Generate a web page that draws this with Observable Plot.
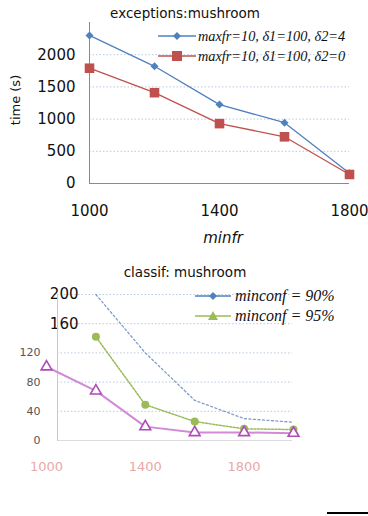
<!DOCTYPE html>
<html>
<head>
<meta charset="utf-8">
<script src="https://cdn.jsdelivr.net/npm/d3@7"></script>
<script src="https://cdn.jsdelivr.net/npm/@observablehq/plot@0.6"></script>
<style>
  html, body { margin: 0; padding: 0; background: #fff; }
  #wrap { position: relative; width: 368px; height: 516px; overflow: hidden; }
  .abs { position: absolute; white-space: nowrap; }
  .title { font-family: "DejaVu Sans", sans-serif; font-size: 13.5px; line-height: 16px; color: #111; text-align: center; }
  .leg { display: flex; align-items: center; height: 18px; }
  .leg span { font-family: "Liberation Serif", serif; font-style: italic; color: #111; }
</style>
</head>
<body>
<div id="wrap">
  <div id="top" class="abs" style="left:0;top:0"></div>
  <div id="bot" class="abs" style="left:0;top:250px"></div>
</div>
<script>
// ---------- data: top chart ----------
const minfr = [1000, 1200, 1400, 1600, 1800];
const timeD4 = [2300, 1820, 1225, 945, 160];
const timeD0 = [1790, 1410, 930, 725, 140];
const topYTicks = [0, 500, 1000, 1500, 2000];
const topXTicks = [1000, 1400, 1800];
const topSeries = ["maxfr=10, δ1=100, δ2=4", "maxfr=10, δ1=100, δ2=0"];

// ---------- data: bottom chart ----------
const botX = [1000, 1200, 1400, 1600, 1800, 2000];
const conf90 = [null, 200, 120, 55, 30, 25];
const conf95 = [null, 142, 49, 26, 16, 15];
const confOther = [101, 68, 19, 11, 11, 10];
const botYTicksHigh = [160, 200];
const botYTicksLow = [0, 40, 80, 120];
const botXTicks = [1000, 1400, 1800];
const botSeries = ["minconf = 90%", "minconf = 95%"];

const BLUE = "#4F81BD", RED = "#C0504D", GREEN = "#9BBB59", PINK = "#D08AD6", PINKD = "#B04AB8";
const GRID = "#b9c9de";

const fmt = d => String(d);
const topD4 = minfr.map((x, i) => ({x, y: timeD4[i]}));
const topD0 = minfr.map((x, i) => ({x, y: timeD0[i]}));

const topPlot = Plot.plot({
  width: 368, height: 250,
  marginLeft: 89, marginRight: 19, marginTop: 22, marginBottom: 67,
  x: {domain: [1000, 1800]},
  y: {domain: [0, 2500]},
  style: {fontFamily: "DejaVu Sans, sans-serif", fontSize: "15px", color: "#111", background: "transparent"},
  marks: [
    Plot.gridY(topYTicks.filter(d => d > 0), {stroke: GRID, strokeOpacity: 1, strokeDasharray: "1.5,2"}),
    Plot.axisY({ticks: topYTicks, tickSize: 0, tickPadding: 14, label: null, tickFormat: fmt, fontSize: 15}),
    Plot.axisX({ticks: topXTicks, tickSize: 0, tickPadding: 22, label: null, tickFormat: fmt, fontSize: 15}),
    Plot.ruleX([1000], {stroke: "#8a8a8a"}),
    Plot.ruleY([0], {stroke: "#8a8a8a"}),
    Plot.line(topD4, {x: "x", y: "y", stroke: BLUE, strokeWidth: 1.3}),
    Plot.line(topD0, {x: "x", y: "y", stroke: RED, strokeWidth: 1.3}),
    Plot.dot(topD4, {x: "x", y: "y", symbol: "diamond2", r: 3.6, fill: BLUE}),
    Plot.dot(topD0, {x: "x", y: "y", symbol: "square", r: 5.4, fill: RED})
  ]
});
document.getElementById("top").appendChild(topPlot);

const b90 = botX.map((x, i) => ({x, y: conf90[i]})).filter(d => d.y != null);
const b95 = botX.map((x, i) => ({x, y: conf95[i]})).filter(d => d.y != null);
const bOt = botX.map((x, i) => ({x, y: confOther[i]}));

const botPlot = Plot.plot({
  width: 368, height: 266,
  marginLeft: 57, marginRight: 76, marginTop: 44, marginBottom: 76,
  x: {domain: [1000, 2000], range: [46, 293]},
  y: {domain: [0, 200]},
  style: {fontFamily: "DejaVu Sans, sans-serif", fontSize: "15px", color: "#111", background: "transparent", overflow: "visible"},
  marks: [
    Plot.gridY([40, 80, 120, 160, 200], {stroke: GRID, strokeOpacity: 1, strokeDasharray: "1.5,2"}),
    Plot.axisY({ticks: botYTicksHigh, tickSize: 0, tickPadding: -21, label: null, tickFormat: fmt, fontSize: 15}),
    Plot.axisY({ticks: botYTicksLow, tickSize: 0, tickPadding: 17, label: null, tickFormat: fmt, fontSize: 11, fill: "#555"}),
    Plot.axisX({ticks: botXTicks, tickSize: 0, tickPadding: 21, label: null, tickFormat: fmt, fontSize: 13, fill: "#e7a9a9"}),
    Plot.ruleY([0], {stroke: "#dcdcdc"}),
    Plot.frame({anchor: "left", stroke: "#c9c9c9"}),
    Plot.line(b90, {x: "x", y: "y", stroke: "#7f9cc8", strokeWidth: 1.3, strokeDasharray: "2,2.5"}),
    Plot.line(b95, {x: "x", y: "y", stroke: GREEN, strokeWidth: 1.5, strokeDasharray: "2,1.5"}),
    Plot.line(bOt, {x: "x", y: "y", stroke: PINK, strokeWidth: 2}),
    Plot.dot(b95, {x: "x", y: "y", symbol: "circle", r: 4, fill: GREEN}),
    Plot.dot(bOt, {x: "x", y: "y", symbol: "triangle", r: 4, fill: "#fff", stroke: PINKD, strokeWidth: 1.6})
  ]
});
document.getElementById("bot").appendChild(botPlot);

// ---------- HTML text: titles, axis labels, legends ----------
const wrap = document.getElementById("wrap");
function addDiv(html, css, cls) {
  const d = document.createElement("div");
  d.className = "abs " + (cls || "");
  d.style.cssText += css;
  d.innerHTML = html;
  wrap.appendChild(d);
  return d;
}
addDiv("exceptions:mushroom", "left:0;width:370px;top:5px;", "title");
addDiv("classif: mushroom", "left:0;width:370px;top:264px;", "title");
addDiv("time (s)", "left:15px;top:100px;transform:translate(-50%,-50%) rotate(-90deg);font-family:'DejaVu Sans',sans-serif;font-size:13px;color:#111;");
addDiv("minfr", "left:223px;top:238px;transform:translate(-50%,-50%);font-family:'DejaVu Sans',sans-serif;font-style:italic;font-size:15px;color:#111;");

function swatch(color, symbol, w) {
  let m = "";
  const c = w / 2;
  if (symbol === "diamond") m = `<path d="M${c},5 L${c + 4},9 L${c},13 L${c - 4},9 Z" fill="${color}"/>`;
  if (symbol === "square") m = `<rect x="${c - 5}" y="4" width="10" height="10" fill="${color}"/>`;
  if (symbol === "triangle") m = `<path d="M${c},4 L${c + 5},13 L${c - 5},13 Z" fill="${color}"/>`;
  return `<svg width="${w}" height="18"><line x1="0" y1="9" x2="${w}" y2="9" stroke="${color}" stroke-width="1.5"/>${m}</svg>`;
}
addDiv(swatch(BLUE, "diamond", 38) + `<span style="font-size:14.3px;margin-left:2px">${topSeries[0]}</span>`, "left:158px;top:27px;", "leg");
addDiv(swatch(RED, "square", 38) + `<span style="font-size:14.3px;margin-left:2px">${topSeries[1]}</span>`, "left:158px;top:47px;", "leg");
addDiv(swatch(BLUE, "diamond", 36) + `<span style="font-size:16px;margin-left:4px">${botSeries[0]}</span>`, "left:195px;top:287px;", "leg");
addDiv(swatch(GREEN, "triangle", 36) + `<span style="font-size:16px;margin-left:4px">${botSeries[1]}</span>`, "left:195px;top:307px;", "leg");
addDiv("", "left:327px;top:512px;width:41px;height:2px;background:#000;");
</script>
</body>
</html>
